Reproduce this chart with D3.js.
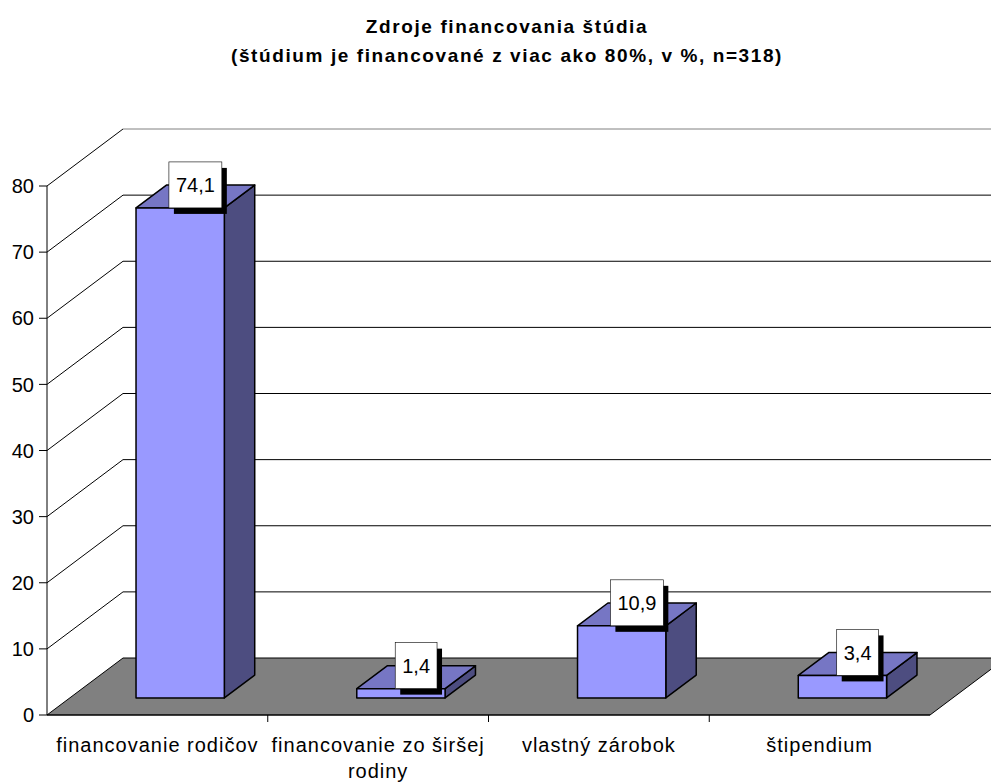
<!DOCTYPE html>
<html>
<head>
<meta charset="utf-8">
<script src="https://cdn.jsdelivr.net/npm/d3@7"></script>
<style>
  body { margin:0; background:#fff; }
  svg { display:block; font-family: Arial, "Liberation Sans", sans-serif; }
</style>
</head>
<body>
<div id="chart"></div>
<script>
// Zdroje financovania štúdia - 3D column chart
const categories = [['financovanie rodičov'], ['financovanie zo širšej', 'rodiny'], ['vlastný zárobok'], ['štipendium']];
const values = [74.1, 1.4, 10.9, 3.4];
const valueLabels = ['74,1', '1,4', '10,9', '3,4'];
const yTicks = [0, 10, 20, 30, 40, 50, 60, 70, 80];
const titleLines = ['Zdroje financovania štúdia', '(štúdium je financované z viac ako 80%, v %, n=318)'];

const W = 991, H = 783;
const svg = d3.select('#chart').append('svg').attr('width', W).attr('height', H);

const left = 47, right = 930, baseY = 715, topY = 186;
const depth = {dx: 76, dy: -57};

const x = d3.scaleBand().domain(d3.range(values.length)).range([left, right]);
const y = d3.scaleLinear().domain([0, 80]).range([baseY, topY]);

const pts = a => a.map(p => p.join(',')).join(' ');

// back wall gridlines + side wall diagonals
const grid = svg.append('g');
yTicks.forEach(t => {
  const yy = y(t);
  if (t > 0) {
    grid.append('line').attr('x1', left).attr('y1', yy).attr('x2', left + depth.dx).attr('y2', yy + depth.dy)
      .attr('stroke', '#000').attr('stroke-width', 1);
    grid.append('line').attr('x1', left + depth.dx).attr('y1', yy + depth.dy).attr('x2', right + depth.dx).attr('y2', yy + depth.dy)
      .attr('stroke', t === 80 ? '#808080' : '#000').attr('stroke-width', 1);
  }
});

// floor
svg.append('polygon')
  .attr('points', pts([[left, baseY], [left + depth.dx, baseY + depth.dy], [right + depth.dx, baseY + depth.dy], [right, baseY]]))
  .attr('fill', '#808080').attr('stroke', '#000').attr('stroke-width', 1);

// y axis
svg.append('line').attr('x1', left).attr('y1', y(80)).attr('x2', left).attr('y2', baseY).attr('stroke', '#000');
const yAxis = svg.append('g');
yTicks.forEach(t => {
  yAxis.append('line').attr('x1', left - 8).attr('x2', left).attr('y1', y(t)).attr('y2', y(t)).attr('stroke', '#000');
  yAxis.append('text').attr('x', 34).attr('y', y(t)).attr('dy', '0.36em').attr('text-anchor', 'end')
    .attr('font-size', 20).text(t);
});

// x axis
svg.append('line').attr('x1', left).attr('y1', baseY).attr('x2', right).attr('y2', baseY).attr('stroke', '#000');
d3.range(1, values.length).forEach(i => {
  svg.append('line').attr('x1', x(i)).attr('x2', x(i)).attr('y1', baseY).attr('y2', baseY + 7).attr('stroke', '#000');
});
categories.forEach((lines, i) => {
  const t = svg.append('text').attr('text-anchor', 'middle').attr('font-size', 20).attr('letter-spacing', 1);
  lines.forEach((l, j) => {
    t.append('tspan').attr('x', x(i) + x.bandwidth() / 2).attr('y', 752 + j * 26).text(l);
  });
});

// bars
const bw = x.bandwidth() * 0.4;
const fOff = {dx: depth.dx * 0.3, dy: depth.dy * 0.3};
const bDep = {dx: depth.dx * 0.4, dy: depth.dy * 0.4};
const bars = svg.append('g');
values.forEach((v, i) => {
  const x0 = x(i) + x.bandwidth() * 0.3 + fOff.dx;
  const x1 = x0 + bw;
  const yb = baseY + fOff.dy;
  const yt = y(v) + fOff.dy;
  const g = bars.append('g').attr('stroke', '#000').attr('stroke-width', 1.5).attr('stroke-linejoin', 'round');
  g.append('polygon').attr('points', pts([[x1, yb], [x1 + bDep.dx, yb + bDep.dy], [x1 + bDep.dx, yt + bDep.dy], [x1, yt]]))
    .attr('fill', '#4d4d80');
  g.append('polygon').attr('points', pts([[x0, yt], [x0 + bDep.dx, yt + bDep.dy], [x1 + bDep.dx, yt + bDep.dy], [x1, yt]]))
    .attr('fill', '#7676c4');
  g.append('rect').attr('x', x0).attr('y', yt).attr('width', bw).attr('height', yb - yt).attr('fill', '#9999ff');

  // value label
  const cx = (x0 + x1) / 2 + bDep.dx / 2;
  const lab = bars.append('g');
  const txt = lab.append('text').attr('x', cx).attr('y', yt - 23).attr('dy', '0.36em').attr('text-anchor', 'middle')
    .attr('font-size', 20).text(valueLabels[i]);
  const tw = txt.node().getComputedTextLength();
  const bwid = tw + 14, bh = 46;
  lab.insert('rect', 'text').attr('x', cx - bwid / 2 + 5).attr('y', yt - bh + 6).attr('width', bwid).attr('height', bh).attr('fill', '#000');
  lab.insert('rect', 'text').attr('x', cx - bwid / 2).attr('y', yt - bh).attr('width', bwid).attr('height', bh)
    .attr('fill', '#fff').attr('stroke', '#000').attr('stroke-width', 0.6);
});

// title
titleLines.forEach((l, i) => {
  svg.append('text').attr('x', 507).attr('y', 33 + i * 29).attr('text-anchor', 'middle')
    .attr('font-size', 19).attr('font-weight', 'bold').attr('letter-spacing', 1.6).text(l);
});
</script>
</body>
</html>
